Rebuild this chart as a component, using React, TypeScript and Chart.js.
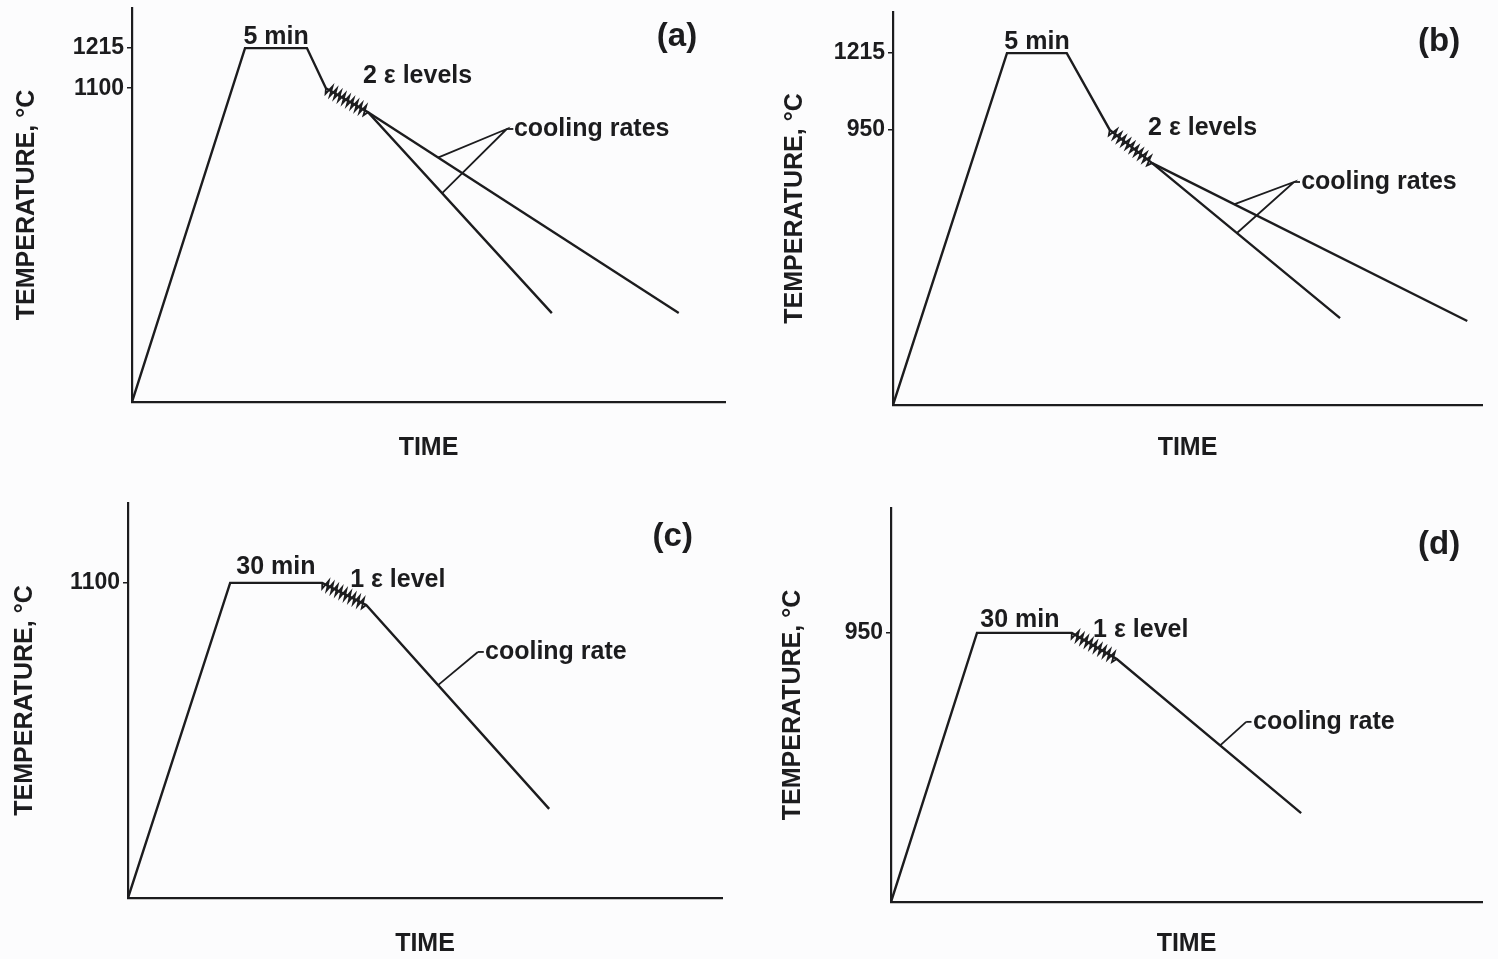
import React, { useEffect, useRef } from "react";
import { Chart, registerables } from "chart.js";

Chart.register(...registerables);

// ---------- data (time in arbitrary units 0-100, temperature in °C) ----------
// Panel (a)
const aPathTime = [0, 19.06, 29.5, 32.7, 39.8, 70.8];
const aPathTemp = [200, 1215, 1215, 1100, 1031, 455];
const aSlowTime = [39.8, 92.2];
const aSlowTemp = [1031, 455];
const aLeaderTime = [51.6, 63.2, 52.3];
const aLeaderTemp = [901, 983, 799];
const aTicks = [1100, 1215];

// Panel (b)
const bPathTime = [0, 19.35, 29.5, 36.8, 44.0, 75.9];
const bPathTemp = [0, 1215, 1215, 950, 835, 300];
const bSlowTime = [44.0, 97.5];
const bSlowTemp = [835, 290];
const bLeaderTime = [57.9, 68.1, 58.4];
const bLeaderTemp = [693, 770, 594];
const bTicks = [950, 1215];

// Panel (c)
const cPathTime = [0, 17.2, 32.7, 40.1, 70.9];
const cPathTemp = [0, 1100, 1100, 1023, 311];
const cLeaderTime = [52.2, 58.9];
const cLeaderTemp = [743, 859];
const cTicks = [1100];

// Panel (d)
const dPathTime = [0, 14.55, 30.6, 38.2, 69.4];
const dPathTemp = [0, 950, 950, 858, 314];
const dLeaderTime = [55.7, 60.1];
const dLeaderTemp = [553, 636];
const dTicks = [950];

const INK = "#1c1c1e";
const FONT = "'Liberation Sans', Arial, Helvetica, sans-serif";

type Txt = { text: string; t: number; T: number; align: CanvasTextAlign; size: number };
type Series = { t: number[]; T: number[] };
type Panel = {
  box: { left: number; top: number; w: number; h: number };
  area: { left: number; top: number; right: number; bottom: number };
  yMin: number;
  yMax: number;
  ticks: number[];
  paths: Series[];
  leaders: Series[];
  dashes: Series[];
  zig: { from: number; to: number };
  texts: Txt[];
  timePad: number;
  tempPad: number;
};

const panels: Panel[] = [
  {
    box: { left: 0, top: 0, w: 749, h: 479 },
    area: { left: 132, top: 8, right: 725, bottom: 402 },
    yMin: 200,
    yMax: 1330,
    ticks: aTicks,
    paths: [
      { t: aPathTime, T: aPathTemp },
      { t: aSlowTime, T: aSlowTemp },
    ],
    leaders: [{ t: aLeaderTime, T: aLeaderTemp }],
    dashes: [{ t: [63.2, 64.3], T: [983, 983] }],
    zig: { from: 3, to: 4 },
    texts: [
      { text: "5 min", t: 24.3, T: 1246, align: "center", size: 25 },
      { text: "2 ε levels", t: 38.95, T: 1135, align: "left", size: 25 },
      { text: "cooling rates", t: 64.4, T: 983, align: "left", size: 25 },
      { text: "(a)", t: 95.3, T: 1246, align: "right", size: 33 },
    ],
    timePad: 15.6,
    tempPad: 12.0,
  },
  {
    box: { left: 749, top: 0, w: 749, h: 479 },
    area: { left: 144, top: 12, right: 733, bottom: 405 },
    yMin: 0,
    yMax: 1357,
    ticks: bTicks,
    paths: [
      { t: bPathTime, T: bPathTemp },
      { t: bSlowTime, T: bSlowTemp },
    ],
    leaders: [{ t: bLeaderTime, T: bLeaderTemp }],
    dashes: [{ t: [68.1, 69.1], T: [770, 770] }],
    zig: { from: 3, to: 4 },
    texts: [
      { text: "5 min", t: 24.45, T: 1253, align: "center", size: 25 },
      { text: "2 ε levels", t: 43.3, T: 956, align: "left", size: 25 },
      { text: "cooling rates", t: 69.3, T: 770, align: "left", size: 25 },
      { text: "(b)", t: 96.3, T: 1253, align: "right", size: 33 },
    ],
    timePad: 15.6,
    tempPad: 31.0,
  },
  {
    box: { left: 0, top: 479, w: 749, h: 480 },
    area: { left: 128, top: 24, right: 722, bottom: 419 },
    yMin: 0,
    yMax: 1379,
    ticks: cTicks,
    paths: [{ t: cPathTime, T: cPathTemp }],
    leaders: [{ t: cLeaderTime, T: cLeaderTemp }],
    dashes: [{ t: [58.9, 59.9], T: [859, 859] }],
    zig: { from: 2, to: 3 },
    texts: [
      { text: "30 min", t: 24.9, T: 1156, align: "center", size: 25 },
      { text: "1 ε level", t: 37.4, T: 1110, align: "left", size: 25 },
      { text: "cooling rate", t: 60.1, T: 859, align: "left", size: 25 },
      { text: "(c)", t: 95.1, T: 1260, align: "right", size: 33 },
    ],
    timePad: 0,
    tempPad: 10.0,
  },
  {
    box: { left: 749, top: 479, w: 749, h: 480 },
    area: { left: 142, top: 29, right: 733, bottom: 423 },
    yMin: 0,
    yMax: 1391,
    ticks: dTicks,
    paths: [{ t: dPathTime, T: dPathTemp }],
    leaders: [{ t: dLeaderTime, T: dLeaderTemp }],
    dashes: [{ t: [60.1, 61.0], T: [636, 636] }],
    zig: { from: 2, to: 3 },
    texts: [
      { text: "30 min", t: 21.8, T: 996, align: "center", size: 25 },
      { text: "1 ε level", t: 34.2, T: 960, align: "left", size: 25 },
      { text: "cooling rate", t: 61.25, T: 636, align: "left", size: 25 },
      { text: "(d)", t: 96.3, T: 1261, align: "right", size: 33 },
    ],
    timePad: 0,
    tempPad: 29.0,
  },
];

function decorPlugin(p: Panel) {
  return {
    id: "decor",
    afterDatasetsDraw(chart: any) {
      const xs = chart.scales.x;
      const ys = chart.scales.y;
      const ctx: CanvasRenderingContext2D = chart.ctx;
      const path = p.paths[0];
      const x0 = xs.getPixelForValue(path.t[p.zig.from]);
      const y0 = ys.getPixelForValue(path.T[p.zig.from]);
      const x1 = xs.getPixelForValue(path.t[p.zig.to]);
      const y1 = ys.getPixelForValue(path.T[p.zig.to]);
      const dx = x1 - x0;
      const dy = y1 - y0;
      const len = Math.hypot(dx, dy);
      const nx = -dy / len;
      const ny = dx / len;
      const teeth = 10;
      const amp = 5;
      ctx.save();
      ctx.strokeStyle = INK;
      ctx.lineWidth = 1.8;
      ctx.lineJoin = "miter";
      ctx.beginPath();
      ctx.moveTo(x0, y0);
      const n = teeth * 2;
      for (let i = 1; i < n; i++) {
        const f = i / n;
        const s = i % 2 === 1 ? amp : -amp;
        ctx.lineTo(x0 + dx * f + nx * s, y0 + dy * f + ny * s);
      }
      ctx.lineTo(x1, y1);
      ctx.stroke();
      ctx.restore();
    },
    afterDraw(chart: any) {
      const xs = chart.scales.x;
      const ys = chart.scales.y;
      const ctx: CanvasRenderingContext2D = chart.ctx;
      ctx.save();
      ctx.fillStyle = INK;
      ctx.textBaseline = "middle";
      for (const tx of p.texts) {
        ctx.font = `bold ${tx.size}px ${FONT}`;
        ctx.textAlign = tx.align;
        ctx.fillText(tx.text, xs.getPixelForValue(tx.t), ys.getPixelForValue(tx.T));
      }
      ctx.restore();
    },
  };
}

function toXY(s: Series) {
  return s.t.map((t, i) => ({ x: t, y: s.T[i] }));
}

function PanelChart({ p }: { p: Panel }) {
  const ref = useRef<HTMLCanvasElement | null>(null);
  useEffect(() => {
    if (!ref.current) return;
    const datasets: any[] = [
      ...p.paths.map((s) => ({
        data: toXY(s),
        borderColor: INK,
        borderWidth: 2.4,
        pointRadius: 0,
        fill: false,
        tension: 0,
        borderJoinStyle: "miter",
      })),
      ...p.leaders.map((s) => ({
        data: toXY(s),
        borderColor: INK,
        borderWidth: 1.8,
        pointRadius: 0,
        fill: false,
        tension: 0,
      })),
      ...p.dashes.map((s) => ({
        data: toXY(s),
        borderColor: INK,
        borderWidth: 1.8,
        pointRadius: 0,
        fill: false,
        tension: 0,
      })),
    ];
    const chart = new Chart(ref.current, {
      type: "line",
      data: { datasets },
      options: {
        animation: false,
        responsive: false,
        events: [],
        layout: {
          padding: { left: 0, top: p.area.top, right: p.box.w - p.area.right, bottom: 0 },
        },
        plugins: { legend: { display: false }, tooltip: { enabled: false } },
        scales: {
          x: {
            type: "linear",
            min: 0,
            max: 100,
            ticks: { display: false },
            grid: { display: false },
            border: { display: true, color: INK, width: 2.2 },
            title: {
              display: true,
              text: "TIME",
              color: INK,
              font: { family: FONT, size: 25, weight: "bold" },
              padding: { top: 0, bottom: p.timePad },
            },
            afterFit: (s: any) => {
              s.height = p.box.h - p.area.bottom;
              s.paddingLeft = 0;
              s.paddingRight = 0;
            },
          },
          y: {
            type: "linear",
            min: p.yMin,
            max: p.yMax,
            afterBuildTicks: (s: any) => {
              s.ticks = p.ticks.map((v) => ({ value: v }));
            },
            ticks: {
              callback: (v: any) => String(v),
              color: INK,
              font: { family: FONT, size: 23, weight: "bold" },
              padding: 3,
            },
            grid: {
              drawOnChartArea: false,
              drawTicks: true,
              tickLength: 5,
              color: INK,
              lineWidth: 1.5,
            },
            border: { display: true, color: INK, width: 2.2 },
            title: {
              display: true,
              text: "TEMPERATURE, °C",
              color: INK,
              font: { family: FONT, size: 25, weight: "bold" },
              padding: { top: p.tempPad, bottom: 0 },
            },
            afterFit: (s: any) => {
              s.width = p.area.left;
              s.paddingTop = 0;
              s.paddingBottom = 0;
            },
          },
        },
      } as any,
      plugins: [decorPlugin(p)],
    });
    return () => chart.destroy();
  }, [p]);
  return (
    <canvas
      ref={ref}
      width={p.box.w}
      height={p.box.h}
      style={{ position: "absolute", left: p.box.left, top: p.box.top, width: p.box.w, height: p.box.h }}
    />
  );
}

export default function App() {
  return (
    <div
      style={{
        position: "absolute",
        left: 0,
        top: 0,
        width: 1498,
        height: 959,
        background: "#fcfcfd",
        overflow: "hidden",
      }}
    >
      {panels.map((p, i) => (
        <PanelChart key={i} p={p} />
      ))}
    </div>
  );
}
